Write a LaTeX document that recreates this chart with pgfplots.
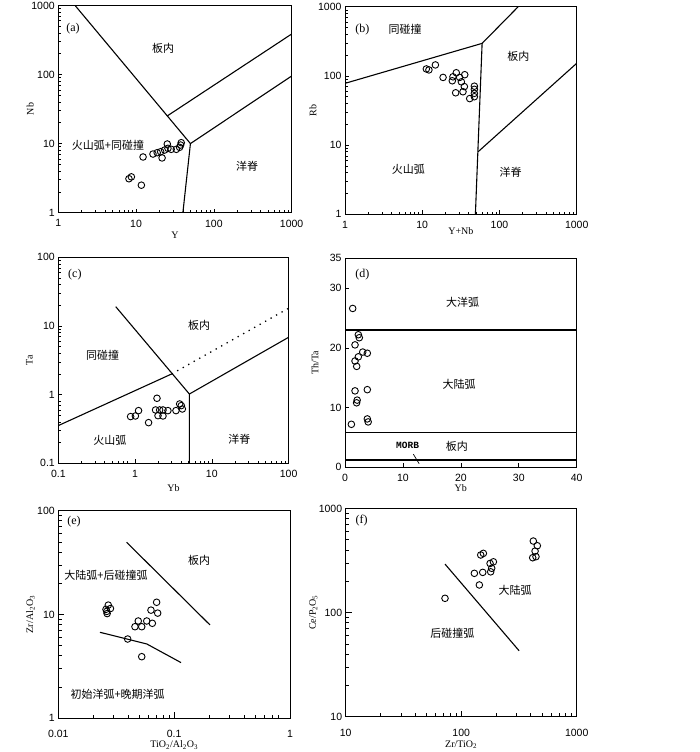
\documentclass[border=0pt]{standalone}
\usepackage{fontspec}
\setmainfont{Liberation Serif}
\newfontfamily\cjk{Noto Sans CJK SC}
\newfontfamily\arial{Liberation Sans}
\newfontfamily\mono{Liberation Mono}
\usepackage{pgfplots}
\pgfplotsset{compat=1.18}

\pgfplotsset{
  panel/.style={
    scale only axis, anchor=south west,
    axis line style={line width=1pt},
    tick align=inside, xtick pos=left, ytick pos=left,
    major tick length=4pt, minor tick length=2.5pt,
    every tick/.style={black, line width=0.6pt},
    tick label style={font=\arial\fontsize{10.5}{12}\selectfont},
    xticklabel style={yshift=-3.5pt},
    label style={font=\fontsize{12.5}{14}\selectfont},
    every axis x label/.style={at={(axis description cs:0.5,-0.11)}, anchor=center},
    every axis y label/.style={at={(axis description cs:-0.12,0.5)}, anchor=center, rotate=90},
  },
  lin/.style={black, line width=1.1pt, no marks},
  pts/.style={only marks, mark=o, mark size=3.3pt, mark options={line width=0.9pt, black}},
}
\tikzset{
  lbl/.style={font=\cjk\fontsize{11}{12}\selectfont},
  tag/.style={font=\fontsize{12}{13}\selectfont},
}

\begin{document}
\begin{tikzpicture}
\useasboundingbox (0,0) rectangle (700pt,752pt);

% (a) Nb - Y
\begin{axis}[panel, at={(58.3pt,539.3pt)}, width=233.3pt, height=207.3pt,
  xmode=log, ymode=log, xmin=1, xmax=1000, ymin=1, ymax=1000,
  xtick={1,10,100,1000}, xticklabels={1,10,100,1000},
  ytick={1,10,100,1000}, yticklabels={1,10,100,1000},
  minor xtick={2,3,...,9,20,30,...,90,200,300,...,900},
  minor ytick={2,3,...,9,20,30,...,90,200,300,...,900},
  xlabel={Y}, ylabel={Nb}]
\addplot[lin] coordinates {(1.64,1000) (50,10) (40,1)};
\addplot[lin] coordinates {(50,10) (1000,95)};
\addplot[lin] coordinates {(25,25) (1000,385)};
\addplot[pts] coordinates {
 (8.1,3.1) (8.7,3.3) (11.7,2.5) (12.3,6.4) (16.5,7.06) (18.7,7.38)
 (20.7,7.63) (21.6,6.2) (23.3,8.07) (25.2,9.86) (25.7,8.54) (28.3,8.26)
 (32.9,8.26) (36.3,8.83) (37.4,9.53) (38.1,10.3)};
\node[tag] at (rel axis cs:0.063,0.886) {(a)};
\node[lbl] at (rel axis cs:0.449,0.794) {板内};
\node[lbl] at (rel axis cs:0.213,0.327) {火山弧+同碰撞};
\node[lbl] at (rel axis cs:0.809,0.225) {洋脊};
\end{axis}

% (b) Rb - (Y+Nb)
\begin{axis}[panel, at={(345pt,537.7pt)}, width=231.7pt, height=207.6pt,
  xmode=log, ymode=log, xmin=1, xmax=1000, ymin=1, ymax=1000,
  xtick={1,10,100,1000}, xticklabels={1,10,100,1000},
  ytick={1,10,100,1000}, yticklabels={1,10,100,1000},
  minor xtick={2,3,...,9,20,30,...,90,200,300,...,900},
  minor ytick={2,3,...,9,20,30,...,90,200,300,...,900},
  xlabel={Y+Nb}, ylabel={Rb},
  every axis x label/.style={at={(axis description cs:0.5,-0.08)}, anchor=center},
  every axis y label/.style={at={(axis description cs:-0.138,0.5)}, anchor=center, rotate=90}]
\addplot[lin] coordinates {(1,78) (59.6,295) (175,1000)};
\addplot[lin] coordinates {(59.6,295) (48.8,1)};
\addplot[lin] coordinates {(52.8,8) (1000,152)};
\addplot[pts] coordinates {
 (11.3,126) (12.2,122) (14.8,144) (18.6,95) (24.5,85) (25,97)
 (27.6,111) (30.5,95) (35.5,104) (32.1,82) (35.1,70) (27.1,57)
 (33.7,59) (41.2,47) (47.3,71) (47.3,64) (47.3,56) (47.3,50)};
\node[tag] at (rel axis cs:0.075,0.891) {(b)};
\node[lbl] at (rel axis cs:0.259,0.891) {同碰撞};
\node[lbl] at (rel axis cs:0.748,0.759) {板内};
\node[lbl] at (rel axis cs:0.273,0.217) {火山弧};
\node[lbl] at (rel axis cs:0.715,0.200) {洋脊};
\end{axis}

% (c) Ta - Yb
\begin{axis}[panel, at={(58.3pt,288.7pt)}, width=230.3pt, height=206pt,
  xmode=log, ymode=log, xmin=0.1, xmax=100, ymin=0.1, ymax=100,
  xtick={0.1,1,10,100}, xticklabels={0.1,1,10,100},
  ytick={0.1,1,10,100}, yticklabels={0.1,1,10,100},
  minor xtick={0.2,0.3,...,0.9,2,3,...,9,20,30,...,90},
  minor ytick={0.2,0.3,...,0.9,2,3,...,9,20,30,...,90},
  xlabel={Yb}, ylabel={Ta},
  every axis x label/.style={at={(axis description cs:0.5,-0.12)}, anchor=center},
  every axis y label/.style={at={(axis description cs:-0.126,0.5)}, anchor=center, rotate=90}]
\addplot[lin] coordinates {(0.1,0.354) (3,2)};
\addplot[black, line width=1.3pt, dash pattern=on 1.3pt off 5pt, no marks] coordinates {(3,2) (100,18.1)};
\addplot[lin] coordinates {(0.56,19.1) (5.1,1.02) (5.1,0.1)};
\addplot[lin] coordinates {(5.1,1.02) (100,6.84)};
\addplot[pts] coordinates {
 (0.875,0.479) (1.01,0.489) (1.11,0.585) (1.50,0.391) (1.93,0.885)
 (1.85,0.598) (2.09,0.598) (2.31,0.598) (2.68,0.585) (1.99,0.494)
 (2.31,0.489) (3.41,0.585) (3.81,0.731) (4.00,0.692) (4.13,0.618)};
\node[tag] at (rel axis cs:0.072,0.917) {(c)};
\node[lbl] at (rel axis cs:0.612,0.671) {板内};
\node[lbl] at (rel axis cs:0.193,0.526) {同碰撞};
\node[lbl] at (rel axis cs:0.224,0.113) {火山弧};
\node[lbl] at (rel axis cs:0.786,0.118) {洋脊};
\end{axis}

% (d) Th/Ta - Yb
\begin{axis}[panel, at={(345pt,284.7pt)}, width=231.7pt, height=209pt,
  xmin=0, xmax=40, ymin=0, ymax=35,
  xtick={0,10,20,30,40}, xticklabels={0,10,20,30,40},
  ytick={0,10,20,30,35}, yticklabels={0,10,20,30,35},
  xlabel={Yb}, ylabel={Th/Ta},
  every axis x label/.style={at={(axis description cs:0.5,-0.1)}, anchor=center},
  every axis y label/.style={at={(axis description cs:-0.13,0.5)}, anchor=center, rotate=90}]
\addplot[lin] coordinates {(0,23) (40,23)};
\addplot[lin] coordinates {(0,5.9) (40,5.9)};
\addplot[black, line width=1.5pt, no marks] coordinates {(0,1.25) (40,1.25)};
\addplot[black, line width=0.7pt, no marks] coordinates {(11.8,2.2) (12.8,0.6)};
\addplot[pts] coordinates {
 (1.33,26.6) (2.30,22.2) (2.47,21.7) (1.73,20.5) (3.06,19.3) (3.85,19.1)
 (2.30,18.5) (1.73,17.8) (2.02,16.9) (1.73,12.8) (3.85,13.0) (2.10,11.25)
 (2.0,10.8) (1.1,7.2) (3.85,8.1) (4.0,7.6)};
\node[tag] at (axis cs:3.0,32.3) {(d)};
\node[lbl] at (axis cs:20.3,27.7) {大洋弧};
\node[lbl] at (axis cs:19.7,13.9) {大陆弧};
\node[lbl] at (axis cs:19.3,3.45) {板内};
\node[font=\mono\bfseries\fontsize{9.5}{11}\selectfont] at (axis cs:10.8,3.6) {MORB};
\end{axis}

% (e) Zr/Al2O3 - TiO2/Al2O3
\begin{axis}[panel, at={(58.3pt,33.7pt)}, width=231.7pt, height=207.7pt,
  xmode=log, ymode=log, xmin=0.01, xmax=1, ymin=1, ymax=100,
  xtick={0.01,0.1,1}, xticklabels={0.01,0.1,1},
  ytick={1,10,100}, yticklabels={1,10,100},
  minor xtick={0.02,0.03,...,0.09,0.2,0.3,...,0.9},
  minor ytick={2,3,...,9,20,30,...,90},
  major tick length=6pt, minor tick length=3.5pt,
  xticklabel style={yshift=-5pt},
  xlabel={TiO\textsubscript{2}/Al\textsubscript{2}O\textsubscript{3}},
  ylabel={Zr/Al\textsubscript{2}O\textsubscript{3}},
  every axis x label/.style={at={(axis description cs:0.5,-0.128)}, anchor=center},
  every axis y label/.style={at={(axis description cs:-0.12,0.5)}, anchor=center, rotate=90}]
\addplot[lin] coordinates {(0.0389,49.5) (0.204,7.92)};
\addplot[lin] coordinates {(0.0229,6.73) (0.058,5.2) (0.1146,3.44)};
\addplot[pts] coordinates {
 (0.0270,12.3) (0.0282,11.4) (0.0258,11.2) (0.0262,10.7) (0.0264,10.2)
 (0.0706,13.1) (0.0631,11.0) (0.0721,10.3) (0.0490,8.65) (0.0580,8.65)
 (0.0648,8.22) (0.0459,7.62) (0.0525,7.62) (0.0397,5.80) (0.0525,3.92)};
\node[tag] at (rel axis cs:0.068,0.947) {(e)};
\node[lbl] at (rel axis cs:0.608,0.762) {板内};
\node[lbl] at (rel axis cs:0.206,0.690) {大陆弧+后碰撞弧};
\node[lbl] at (rel axis cs:0.256,0.117) {初始洋弧+晚期洋弧};
\end{axis}

% (f) Ce/P2O5 - Zr/TiO2
\begin{axis}[panel, at={(345.7pt,35.3pt)}, width=231pt, height=208.3pt,
  xmode=log, ymode=log, xmin=10, xmax=1000, ymin=10, ymax=1000,
  xtick={10,100,1000}, xticklabels={10,100,1000},
  ytick={10,100,1000}, yticklabels={10,100,1000},
  minor xtick={20,30,...,90,200,300,...,900},
  minor ytick={20,30,...,90,200,300,...,900},
  major tick length=6pt, minor tick length=3.5pt,
  xticklabel style={yshift=-5pt},
  xlabel={Zr/TiO\textsubscript{2}},
  ylabel={Ce/P\textsubscript{2}O\textsubscript{5}},
  every axis x label/.style={at={(axis description cs:0.5,-0.135)}, anchor=center},
  every axis y label/.style={at={(axis description cs:-0.14,0.5)}, anchor=center, rotate=90}]
\addplot[lin] coordinates {(72.4,292) (317,43)};
\addplot[pts] coordinates {
 (147.6,357) (155.5,370) (177.8,296) (190,307) (183.7,266) (180,246)
 (130,238) (153.6,243) (143.6,184) (72.4,137) (421,486) (456,438)
 (436,389) (416,336) (444,344)};
\node[tag] at (rel axis cs:0.069,0.941) {(f)};
\node[lbl] at (rel axis cs:0.733,0.605) {大陆弧};
\node[lbl] at (rel axis cs:0.462,0.400) {后碰撞弧};
\end{axis}
\end{tikzpicture}
\end{document}
